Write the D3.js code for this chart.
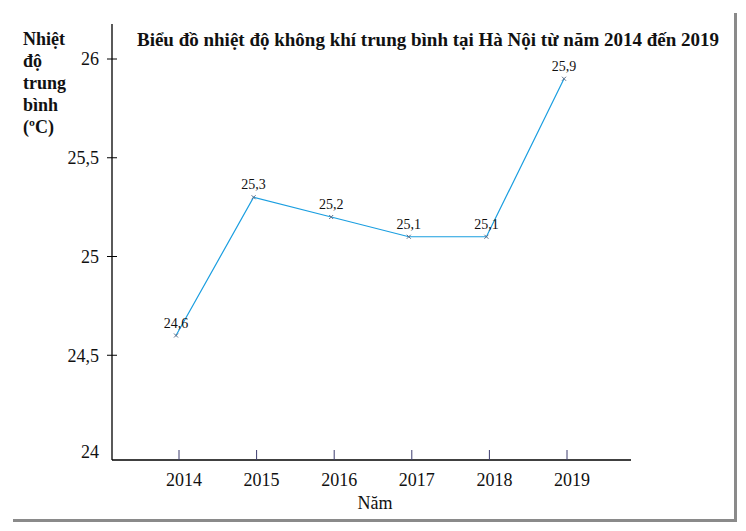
<!DOCTYPE html>
<html>
<head>
<meta charset="utf-8">
<script src="https://cdn.jsdelivr.net/npm/d3@7"></script>
<style>
  body { margin: 0; background: #fff; }
</style>
</head>
<body>
<div class="chart"></div>
<script>
// data
const years = ['2014', '2015', '2016', '2017', '2018', '2019'];
const temps = [24.6, 25.3, 25.2, 25.1, 25.1, 25.9];
const yTicks = [24, 24.5, 25, 25.5, 26];
const yLabelLines = ['Nhiệt', 'độ', 'trung', 'bình', '(ºC)'];
const title = 'Biểu đồ nhiệt độ không khí trung bình tại Hà Nội từ năm 2014 đến 2019';
const xTitle = 'Năm';

const w = 746;
const h = 531;
const fmt = (v) => String(v).replace('.', ',');

const svg = d3.select('.chart').append('svg')
  .attr('width', w)
  .attr('height', h)
  .attr('font-family', 'Liberation Serif, Tinos, Times New Roman, DejaVu Serif, serif')
  .attr('fill', '#111');

// frame shadow
svg.append('line').attr('x1', 13).attr('x2', 737).attr('y1', 520.5).attr('y2', 520.5)
  .attr('stroke', '#8a8a8a').attr('stroke-width', 3);
svg.append('line').attr('x1', 735.5).attr('x2', 735.5).attr('y1', 13).attr('y2', 521)
  .attr('stroke', '#8a8a8a').attr('stroke-width', 3);

// scales
const x = d3.scalePoint(years, [176, 564]);
const y = d3.scaleLinear([24, 26], [454, 59]);
const axisY = 460;
const axisX = 112;

// y axis
svg.append('line').attr('x1', axisX).attr('x2', axisX).attr('y1', 24).attr('y2', axisY)
  .attr('stroke', '#000').attr('stroke-width', 1.3);
const yt = svg.append('g').selectAll('g').data(yTicks).join('g');
yt.filter((d) => d > 24).append('line')
  .attr('x1', axisX - 5).attr('x2', axisX + 5)
  .attr('y1', (d) => y(d)).attr('y2', (d) => y(d))
  .attr('stroke', '#000');
yt.append('text')
  .attr('x', 99)
  .attr('y', (d) => (d === 24 ? y(d) - 2 : y(d)))
  .attr('dy', '0.35em')
  .attr('text-anchor', 'end')
  .attr('font-size', 18)
  .text(fmt);

// x axis
svg.append('line').attr('x1', axisX).attr('x2', 631).attr('y1', axisY).attr('y2', axisY)
  .attr('stroke', '#000').attr('stroke-width', 1.3);
const xt = svg.append('g').selectAll('g').data(years).join('g');
xt.append('line')
  .attr('x1', (d) => x(d) + 3).attr('x2', (d) => x(d) + 3)
  .attr('y1', axisY - 10).attr('y2', axisY)
  .attr('stroke', '#3c3c6e');
xt.append('text')
  .attr('x', (d) => x(d) + 8)
  .attr('y', 486)
  .attr('text-anchor', 'middle')
  .attr('font-size', 18)
  .text((d) => d);

svg.append('text')
  .attr('x', 375).attr('y', 509)
  .attr('text-anchor', 'middle')
  .attr('font-size', 18)
  .text(xTitle);

// line
const line = d3.line()
  .x((d, i) => x(years[i]))
  .y((d) => y(d));
svg.append('path')
  .datum(temps)
  .attr('d', line)
  .attr('fill', 'none')
  .attr('stroke', '#1a9ee0')
  .attr('stroke-width', 1.2);

// point markers
const pts = svg.append('g').selectAll('g').data(temps).join('g')
  .attr('transform', (d, i) => `translate(${x(years[i])},${y(d)})`);
pts.append('path')
  .attr('d', 'M-2,-2L2,2M-2,2L2,-2')
  .attr('stroke', '#5a6e8a')
  .attr('stroke-width', 1);
pts.append('text')
  .attr('y', -8)
  .attr('text-anchor', 'middle')
  .attr('font-size', 14)
  .text(fmt);

// title
svg.append('text')
  .attr('x', 428).attr('y', 46)
  .attr('text-anchor', 'middle')
  .attr('font-size', 19)
  .attr('font-weight', 'bold')
  .text(title);

// y label
svg.append('g').selectAll('text').data(yLabelLines).join('text')
  .attr('x', 23)
  .attr('y', (d, i) => 45 + i * 22)
  .attr('font-size', 18)
  .attr('font-weight', 'bold')
  .text((d) => d);
</script>
</body>
</html>
